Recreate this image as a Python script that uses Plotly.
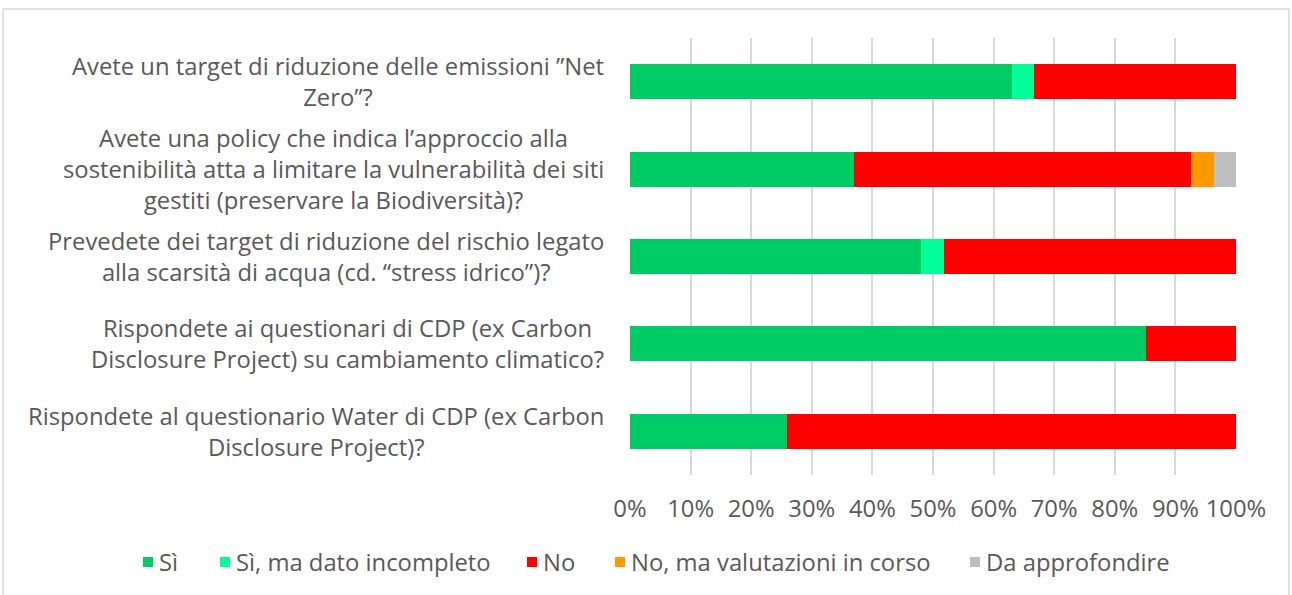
import plotly.graph_objects as go

questions = [
    "Avete un target di riduzione delle emissioni ”Net<br>Zero”?",
    "Avete una policy che indica l’approccio alla<br>sostenibilità atta a limitare la vulnerabilità dei siti<br>gestiti (preservare la Biodiversità)?",
    "Prevedete dei target di riduzione del rischio legato<br>alla scarsità di acqua (cd. “stress idrico”)?",
    "Rispondete ai questionari di CDP (ex Carbon<br>Disclosure Project) su cambiamento climatico?",
    "Rispondete al questionario Water di CDP (ex Carbon<br>Disclosure Project)?",
]
keys = ["q1", "q2", "q3", "q4", "q5"]

si = [63.0, 37.0, 48.1, 85.2, 25.9]
si_incompleto = [3.7, 0, 3.7, 0, 0]
no = [33.3, 55.6, 48.2, 14.8, 74.1]
no_valutazioni = [0, 3.7, 0, 0, 0]
da_approfondire = [0, 3.7, 0, 0, 0]

series = [
    ("Sì", si, "#00CC66"),
    ("Sì, ma dato incompleto", si_incompleto, "#00FF99"),
    ("No", no, "#FF0000"),
    ("No, ma valutazioni in corso", no_valutazioni, "#FF9900"),
    ("Da approfondire", da_approfondire, "#BFBFBF"),
]

FONT = "Open Sans"
SIZE = 23.8
GREY = "#595959"

# plot area in pixels: x 630..1236, y 38..475
def px_x(p):
    return (p - 630) / 606

def px_y(p):
    return (475 - p) / 437

fig = go.Figure()
for name, vals, color in series:
    fig.add_trace(go.Bar(
        y=keys, x=vals, name=name, orientation="h",
        marker=dict(color=color, line=dict(width=0)),
        width=0.4, showlegend=False,
    ))

# question labels as centered multi-line annotations
for k, q in zip(keys, questions):
    fig.add_annotation(
        x=0, xref="paper", y=k, yref="y", text=q, showarrow=False,
        xanchor="right", yanchor="middle", align="center", xshift=-24,
        font=dict(family=FONT, size=SIZE, color=GREY),
    )

# legend drawn by hand (square + label)
legend_x = [143, 220, 527, 615, 970]
for (name, _, color), lx in zip(series, legend_x):
    fig.add_shape(type="rect", xref="paper", yref="paper",
                  x0=px_x(lx), x1=px_x(lx + 10), y0=px_y(567), y1=px_y(557),
                  line=dict(width=0), fillcolor=color)
    fig.add_annotation(x=px_x(lx + 14), y=px_y(562), xref="paper", yref="paper",
                       text=name, showarrow=False, xanchor="left", yanchor="middle",
                       font=dict(family=FONT, size=SIZE, color=GREY))

# outer frame
fig.add_shape(type="rect", xref="paper", yref="paper",
              x0=px_x(3), x1=px_x(1289), y0=px_y(598), y1=px_y(9),
              line=dict(color="#D9D9D9", width=1.5), fillcolor="rgba(0,0,0,0)")

fig.update_layout(
    width=1292, height=595,
    barmode="stack",
    margin=dict(l=630, r=56, t=38, b=120),
    plot_bgcolor="white", paper_bgcolor="white",
    font=dict(family=FONT, size=SIZE, color=GREY),
    showlegend=False,
    xaxis=dict(range=[0, 100], tickvals=list(range(0, 101, 10)),
               ticktext=[f"{v}%" for v in range(0, 101, 10)],
               showgrid=True, gridcolor="#D9D9D9", gridwidth=1.5,
               zeroline=False, showline=False,
               ticks="outside", ticklen=12, tickcolor="rgba(0,0,0,0)",
               tickfont=dict(family=FONT, size=SIZE, color=GREY)),
    yaxis=dict(categoryorder="array", categoryarray=keys, autorange="reversed",
               showticklabels=False, showgrid=False, zeroline=False, ticks=""),
)

fig.write_html("out.html", config={"displayModeBar": False},
               post_script="document.body.style.margin='0';")
